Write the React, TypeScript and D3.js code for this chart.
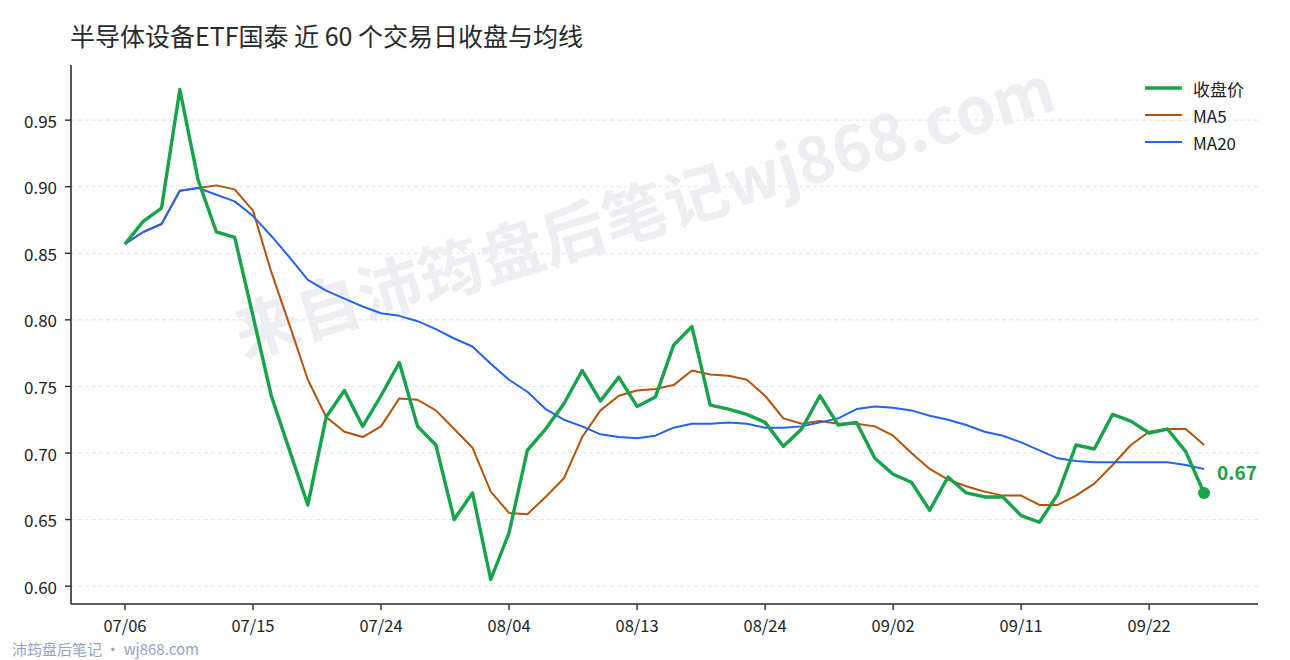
import React, { useEffect, useRef } from "react";
import * as d3 from "d3";

// 近 60 个交易日 收盘价 / MA5 / MA20
const closePrice = [
  0.857, 0.874, 0.884, 0.973, 0.905, 0.866, 0.862, 0.803, 0.743, 0.702,
  0.661, 0.727, 0.747, 0.72, 0.743, 0.768, 0.72, 0.706, 0.65, 0.67,
  0.605, 0.64, 0.702, 0.718, 0.737, 0.762, 0.739, 0.757, 0.735, 0.742,
  0.781, 0.795, 0.736, 0.733, 0.729, 0.723, 0.705, 0.718, 0.743, 0.721,
  0.723, 0.696, 0.684, 0.678, 0.657, 0.682, 0.67, 0.667, 0.667, 0.653,
  0.648, 0.669, 0.706, 0.703, 0.729, 0.724, 0.715, 0.718, 0.701, 0.67,
];

const ma5 = [
  0.857, 0.866, 0.872, 0.897, 0.899, 0.901, 0.898, 0.882, 0.836, 0.796,
  0.755, 0.727, 0.716, 0.712, 0.72, 0.741, 0.74, 0.732, 0.718, 0.704,
  0.671, 0.655, 0.654, 0.667, 0.681, 0.712, 0.732, 0.743, 0.747, 0.748,
  0.751, 0.762, 0.759, 0.758, 0.755, 0.743, 0.726, 0.722, 0.724, 0.722,
  0.722, 0.72, 0.713, 0.7, 0.688, 0.68, 0.675, 0.671, 0.668, 0.668,
  0.661, 0.661, 0.668, 0.677, 0.691, 0.706, 0.716, 0.718, 0.718, 0.706,
];

const ma20 = [
  0.857, 0.866, 0.872, 0.897, 0.899, 0.894, 0.889, 0.878, 0.863, 0.847,
  0.83, 0.822, 0.816, 0.81, 0.805, 0.803, 0.799, 0.793, 0.786, 0.78,
  0.767, 0.755, 0.746, 0.733, 0.725, 0.72, 0.714, 0.712, 0.711, 0.713,
  0.719, 0.722, 0.722, 0.723, 0.722, 0.719, 0.719, 0.72, 0.723, 0.726,
  0.733, 0.735, 0.734, 0.732, 0.728, 0.725, 0.721, 0.716, 0.713, 0.708,
  0.702, 0.696, 0.694, 0.693, 0.693, 0.693, 0.693, 0.693, 0.691, 0.688,
];

const tickLabels = ["07/06", "07/15", "07/24", "08/04", "08/13", "08/24", "09/02", "09/11", "09/22"];
const tickStep = 7;
const yTicks = [0.6, 0.65, 0.7, 0.75, 0.8, 0.85, 0.9, 0.95];

const seriesMeta = [
  { name: "收盘价", values: closePrice, color: "#16a34a", width: 3.4 },
  { name: "MA5", values: ma5, color: "#b45309", width: 2 },
  { name: "MA20", values: ma20, color: "#2563eb", width: 2 },
];

const W = 1290;
const H = 660;
const FONT = "'Noto Sans CJK SC', 'Noto Sans', sans-serif";

const Chart: React.FC = () => {
  const svgRef = useRef<SVGSVGElement>(null);

  useEffect(() => {
    if (!svgRef.current) return;
    const svg = d3.select(svgRef.current);
    svg.selectAll("*").remove();

    const margin = { top: 65, right: 32, bottom: 56, left: 71 };
    const x0 = margin.left;
    const x1 = W - margin.right;
    const y0 = H - margin.bottom;
    const y1 = margin.top;

    const n = closePrice.length;
    const x = d3
      .scaleLinear()
      .domain([-(n - 1) * 0.05, (n - 1) * 1.05])
      .range([x0, x1]);

    const [lo, hi] = d3.extent(closePrice) as [number, number];
    const pad = (hi - lo) * 0.05;
    const y = d3.scaleLinear().domain([lo - pad, hi + pad]).range([y0, y1]);

    svg.append("rect").attr("width", W).attr("height", H).attr("fill", "#fff");

    // grid
    svg
      .append("g")
      .selectAll("line")
      .data(yTicks)
      .enter()
      .append("line")
      .attr("x1", x0)
      .attr("x2", x1)
      .attr("y1", (d) => y(d))
      .attr("y2", (d) => y(d))
      .attr("stroke", "#dcdcdc")
      .attr("stroke-width", 0.8)
      .attr("stroke-dasharray", "4,3");

    // watermark
    svg
      .append("text")
      .attr("transform", `translate(643,207) rotate(-17)`)
      .attr("text-anchor", "middle")
      .attr("dominant-baseline", "central")
      .style("font-family", FONT)
      .style("font-size", "64px")
      .style("font-weight", "bold")
      .style("fill", "#eceef2")
      .text("来自沛筠盘后笔记wj868.com");

    // lines: MA5, MA20, then close on top
    const line = d3
      .line<number>()
      .x((d, i) => x(i))
      .y((d) => y(d));

    [seriesMeta[1], seriesMeta[2], seriesMeta[0]].forEach((s) => {
      svg
        .append("path")
        .datum(s.values)
        .attr("fill", "none")
        .attr("stroke", s.color)
        .attr("stroke-width", s.width)
        .attr("stroke-linejoin", "round")
        .attr("d", line);
    });

    // last close marker + label
    const last = closePrice[n - 1];
    svg
      .append("circle")
      .attr("cx", x(n - 1))
      .attr("cy", y(last))
      .attr("r", 6)
      .attr("fill", "#16a34a");
    svg
      .append("text")
      .attr("x", x(n - 1) + 13)
      .attr("y", y(last) - 13)
      .style("font-family", FONT)
      .style("font-size", "19px")
      .style("font-weight", "bold")
      .style("fill", "#16a34a")
      .text(last.toFixed(2));

    // axes
    const axisColor = "#2b2b2b";
    svg
      .append("line")
      .attr("x1", x0)
      .attr("x2", x0)
      .attr("y1", y1)
      .attr("y2", y0)
      .attr("stroke", axisColor)
      .attr("stroke-width", 1.6);
    svg
      .append("line")
      .attr("x1", x0)
      .attr("x2", x1)
      .attr("y1", y0)
      .attr("y2", y0)
      .attr("stroke", axisColor)
      .attr("stroke-width", 1.6);

    const yAxis = svg.append("g");
    yTicks.forEach((t) => {
      yAxis
        .append("line")
        .attr("x1", x0 - 6)
        .attr("x2", x0)
        .attr("y1", y(t))
        .attr("y2", y(t))
        .attr("stroke", axisColor)
        .attr("stroke-width", 1.4);
      yAxis
        .append("text")
        .attr("x", x0 - 14)
        .attr("y", y(t))
        .attr("text-anchor", "end")
        .attr("dominant-baseline", "central")
        .style("font-family", FONT)
        .style("font-size", "17px")
        .style("fill", "#222")
        .text(t.toFixed(2));
    });

    const xAxis = svg.append("g");
    tickLabels.forEach((lab, k) => {
      const xi = x(k * tickStep);
      xAxis
        .append("line")
        .attr("x1", xi)
        .attr("x2", xi)
        .attr("y1", y0)
        .attr("y2", y0 + 6)
        .attr("stroke", axisColor)
        .attr("stroke-width", 1.4);
      xAxis
        .append("text")
        .attr("x", xi)
        .attr("y", y0 + 28)
        .attr("text-anchor", "middle")
        .style("font-family", FONT)
        .style("font-size", "16.5px")
        .style("fill", "#222")
        .text(lab);
    });

    // legend
    const legend = svg.append("g").attr("transform", "translate(1145,88)");
    seriesMeta.forEach((s, i) => {
      legend
        .append("line")
        .attr("x1", 0)
        .attr("x2", 37)
        .attr("y1", i * 27)
        .attr("y2", i * 27)
        .attr("stroke", s.color)
        .attr("stroke-width", s.width);
      legend
        .append("text")
        .attr("x", 48)
        .attr("y", i * 27)
        .attr("dominant-baseline", "central")
        .style("font-family", FONT)
        .style("font-size", "17px")
        .style("fill", "#222")
        .text(s.name);
    });

    // title
    svg
      .append("text")
      .attr("x", 70)
      .attr("y", 46)
      .style("font-family", FONT)
      .style("font-size", "25px")
      .style("fill", "#2a2a2a")
      .text("半导体设备ETF国泰 近 60 个交易日收盘与均线");

    // footer
    svg
      .append("text")
      .attr("x", 12)
      .attr("y", 655)
      .style("font-family", FONT)
      .style("font-size", "15px")
      .style("fill", "#94a3c0")
      .text("沛筠盘后笔记 · wj868.com");
  }, []);

  return <svg ref={svgRef} width={W} height={H} style={{ display: "block" }} />;
};

export default function App() {
  return (
    <div style={{ position: "fixed", left: 0, top: 0, width: W, height: H, background: "#fff" }}>
      <Chart />
    </div>
  );
}
